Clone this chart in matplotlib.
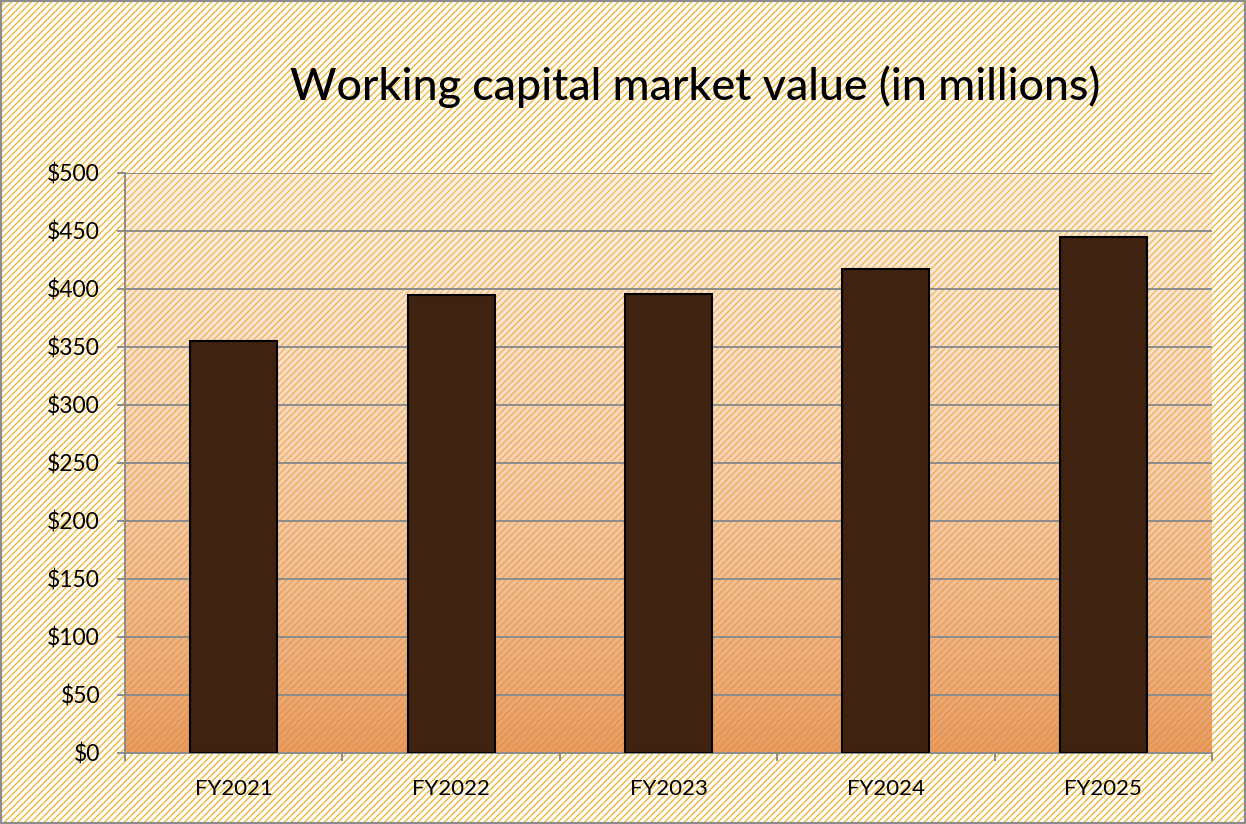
import numpy as np
import matplotlib
matplotlib.use("Agg")
import matplotlib.pyplot as plt
from matplotlib.patches import Rectangle
from matplotlib.colors import to_rgba
from matplotlib.ticker import FuncFormatter, FixedLocator

# ---- data ----
categories = ["FY2021", "FY2022", "FY2023", "FY2024", "FY2025"]
values = [355, 395, 396, 417, 445]
y_ticks = [0, 50, 100, 150, 200, 250, 300, 350, 400, 450, 500]
title = "Working capital market value (in millions)"

# ---- style ----
plt.rcParams['font.family'] = ['Lato', 'DejaVu Sans']
plt.rcParams['hatch.color'] = '#F2B534'
plt.rcParams['hatch.linewidth'] = 0.95

W, H = 1246, 824
fig = plt.figure(figsize=(W / 100, H / 100), dpi=100)
fig.patch.set_facecolor('white')

# hatched chart background
bg = Rectangle((0, 0), 1, 1, transform=fig.transFigure, facecolor='white',
               hatch='/////', zorder=-10)
fig.add_artist(bg)
# outer border
border = Rectangle((0.0008, 0.0012), 0.9984, 0.9976, transform=fig.transFigure,
                   fill=False, edgecolor='#8C8C8C', linewidth=1.6, zorder=10)
fig.add_artist(border)

left, right = 125 / W, 1212 / W
bottom, top = (H - 752.5) / H, (H - 173) / H
ax = fig.add_axes([left, bottom, right - left, top - bottom])
ax.patch.set_alpha(0)

# semi-transparent vertical gradient in the plot area
n = 256
t = np.linspace(0, 1, n)[:, None]  # 0 = bottom, 1 = top
c_bot = np.array(to_rgba('#E38A48'))
c_top = np.array(to_rgba('#F5C8A5'))
grad = np.zeros((n, 1, 4))
for k in range(3):
    grad[:, 0, k] = (c_bot[k] * (1 - t) + c_top[k] * t)[:, 0]
grad[:, 0, 3] = (0.84 * (1 - t) + 0.24 * t)[:, 0]
ax.imshow(grad, extent=(0, 1, 0, 1), transform=ax.transAxes, origin='lower',
          aspect='auto', interpolation='bilinear', zorder=0)

x = np.arange(len(categories))
ax.bar(x, values, width=0.4, color='#3F2210', edgecolor='black',
       linewidth=1.5, zorder=3)

ax.set_xlim(-0.5, len(categories) - 0.5)
ax.set_ylim(y_ticks[0], y_ticks[-1])
ax.set_yticks(y_ticks)
ax.yaxis.set_major_formatter(FuncFormatter(lambda v, p: f"${v:.0f}"))
ax.set_xticks(x)
ax.set_xticklabels(categories)
ax.xaxis.set_minor_locator(FixedLocator(np.arange(len(categories) + 1) - 0.5))

ax.grid(axis='y', color='#8C8C8C', linewidth=1.4, zorder=1)
ax.set_axisbelow(True)
for s in ['top', 'right']:
    ax.spines[s].set_visible(False)
for s in ['left', 'bottom']:
    ax.spines[s].set_color('#8C8C8C')
    ax.spines[s].set_linewidth(1.4)

ax.tick_params(axis='y', which='major', direction='out', length=6,
               width=1.4, color='#8C8C8C', labelsize=16.5, pad=12,
               labelcolor='black')
ax.tick_params(axis='x', which='major', length=0, labelsize=16, pad=19,
               labelcolor='black')
ax.tick_params(axis='x', which='minor', direction='out', length=6,
               width=1.4, color='#8C8C8C')

fig.text(695 / W, 1 - 87 / H, title, ha='center', va='center', fontsize=32.2,
         color='black', fontweight='medium')

fig.savefig('out.png', dpi=100)
